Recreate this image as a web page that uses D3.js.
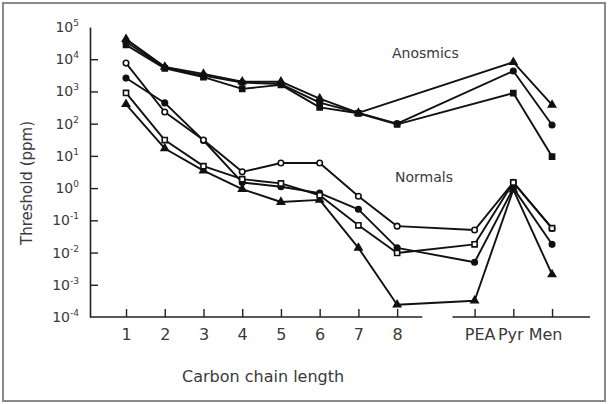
<!DOCTYPE html>
<html><head><meta charset="utf-8">
<script src="https://cdn.jsdelivr.net/npm/d3@7"></script>
<style>
html,body{margin:0;padding:0;background:#fff;}
text{font-family:"DejaVu Sans",sans-serif;fill:#3a3a3a;}
</style></head>
<body><svg id="c" width="608" height="404"></svg>
<script>
// ---- data ----
const categories = ["1","2","3","4","5","6","7","8","PEA","Pyr","Men"];
const yTickExponents = [5,4,3,2,1,0,-1,-2,-3,-4];

// Anosmics (filled markers)
const anosTriangle = [42000, 5800, 3500, 2000, 2000, 600, 215, null, null, 8100, 380];
const anosCircle   = [35000, 5500, 3100, 1900, 1700, 450, 215, 100, null, 4300, 91];
const anosSquare   = [28000, 5200, 2800, 1200, 1600, 320, 210, 95, null, 890, 9.5];

// Normals
const normOpenCircle = [7600, 230, 31, 3.2, 6, 6, 0.56, 0.066, 0.05, 1.5, 0.056];
const normFillCircle = [2600, 440, 30, 1.5, 1.1, 0.7, 0.22, 0.014, 0.005, 1.0, 0.018];
const normOpenSquare = [900, 31, 4.8, 1.9, 1.4, 0.6, 0.07, 0.0097, 0.018, 1.5, 0.057];
const normTriangle   = [400, 17, 3.5, 0.93, 0.37, 0.43, 0.014, 0.00024, 0.00032, 0.9, 0.0021];

const series = [
  {values: anosTriangle, marker: "triangle", fill: true},
  {values: anosCircle, marker: "circle", fill: true},
  {values: anosSquare, marker: "square", fill: true},
  {values: normTriangle, marker: "triangle", fill: true},
  {values: normFillCircle, marker: "circle", fill: true},
  {values: normOpenCircle, marker: "circle", fill: false},
  {values: normOpenSquare, marker: "square", fill: false}
];

// category index -> axis position (gap between 8 and PEA)
const catPos = i => i < 8 ? i + 1 : i + 2;

// ---- chart ----
const svg = d3.select("#c");
const W = 608, H = 404;
const pLeft = 90, pRight = 590, pTop = 27, pBottom = 317;

svg.append("rect").attr("x",3).attr("y",3).attr("width",W-6).attr("height",H-6)
  .attr("fill","none").attr("stroke","#8a8a8a").attr("stroke-width",2);

const x = d3.scaleLinear().domain([0.07, 12.98]).range([pLeft, pRight]);
const y = d3.scaleLog().domain([1e-4, 1e5]).range([pBottom, pTop]);

// y axis
const yAx = svg.append("g").attr("transform",`translate(${pLeft},0)`)
  .call(d3.axisRight(y).tickValues(d3.range(-3,5).map(e=>Math.pow(10,e))).tickSize(8).tickSizeOuter(0).tickFormat(""));
yAx.select(".domain").attr("stroke","#222").attr("stroke-width",1.6);
yAx.selectAll(".tick line").attr("stroke","#222").attr("stroke-width",1.4);

const yl = svg.append("g");
yTickExponents.forEach(e => {
  const t = yl.append("text").attr("x", 79).attr("y", y(Math.pow(10,e)) + 5)
    .attr("text-anchor","end").attr("font-size",14);
  t.append("tspan").text("10");
  t.append("tspan").attr("font-size",9).attr("dy",-6).text(String(e).replace("-","\u2011"));
});

// x axis
const labelShift = {"PEA": 5, "Pyr": -3, "Men": -7};
const xAx = svg.append("g").attr("transform",`translate(0,${pBottom})`)
  .call(d3.axisBottom(x).tickValues(categories.map((c,i)=>catPos(i)))
    .tickFormat((d,i)=>categories[i]).tickSize(-8).tickPadding(12));
xAx.select(".domain").remove();
xAx.selectAll(".tick line").attr("stroke","#222").attr("stroke-width",1.4);
xAx.selectAll(".tick text").attr("font-size",16).attr("fill","#3a3a3a")
  .attr("font-family","DejaVu Sans, sans-serif")
  .attr("dx", function(){ return labelShift[this.textContent] || 0; });
// broken baseline
[[0.07, 8.65],[9.43, 12.98]].forEach(([a,b]) => {
  svg.append("line").attr("x1",x(a)).attr("x2",x(b)).attr("y1",pBottom).attr("y2",pBottom)
    .attr("stroke","#222").attr("stroke-width",1.6);
});

// axis titles
svg.append("text").attr("x", 182).attr("y", 382).attr("font-size",16).text("Carbon chain length");
svg.append("text").attr("transform",`translate(32,${(pTop+pBottom)/2 + 11}) rotate(-90)`)
  .attr("text-anchor","middle").attr("font-size",15).text("Threshold (ppm)");

// group labels
svg.append("text").attr("x", 392).attr("y", 58).attr("font-size",14).text("Anosmics");
svg.append("text").attr("x", 395).attr("y", 182).attr("font-size",14).text("Normals");

// lines
const line = d3.line().x(d=>x(d.p)).y(d=>y(d.v));
const pts = s => s.values.map((v,i)=>({p:catPos(i), v})).filter(d=>d.v!=null);

const g = svg.append("g");
series.forEach(s => {
  g.append("path").attr("d", line(pts(s))).attr("fill","none")
    .attr("stroke","#111").attr("stroke-width",1.9).attr("stroke-linejoin","round");
});
const sym = {triangle: d3.symbolTriangle, circle: d3.symbolCircle, square: d3.symbolSquare};
const size = {triangle: 22, circle: 24, square: 26};
series.forEach(s => {
  g.selectAll(null).data(pts(s)).enter().append("path")
    .attr("transform", d=>`translate(${x(d.p)},${y(d.v)})`)
    .attr("d", d3.symbol().type(sym[s.marker]).size(size[s.marker]))
    .attr("fill", s.fill ? "#111" : "#fff")
    .attr("stroke","#111").attr("stroke-width", 1.6);
});
</script></body></html>
